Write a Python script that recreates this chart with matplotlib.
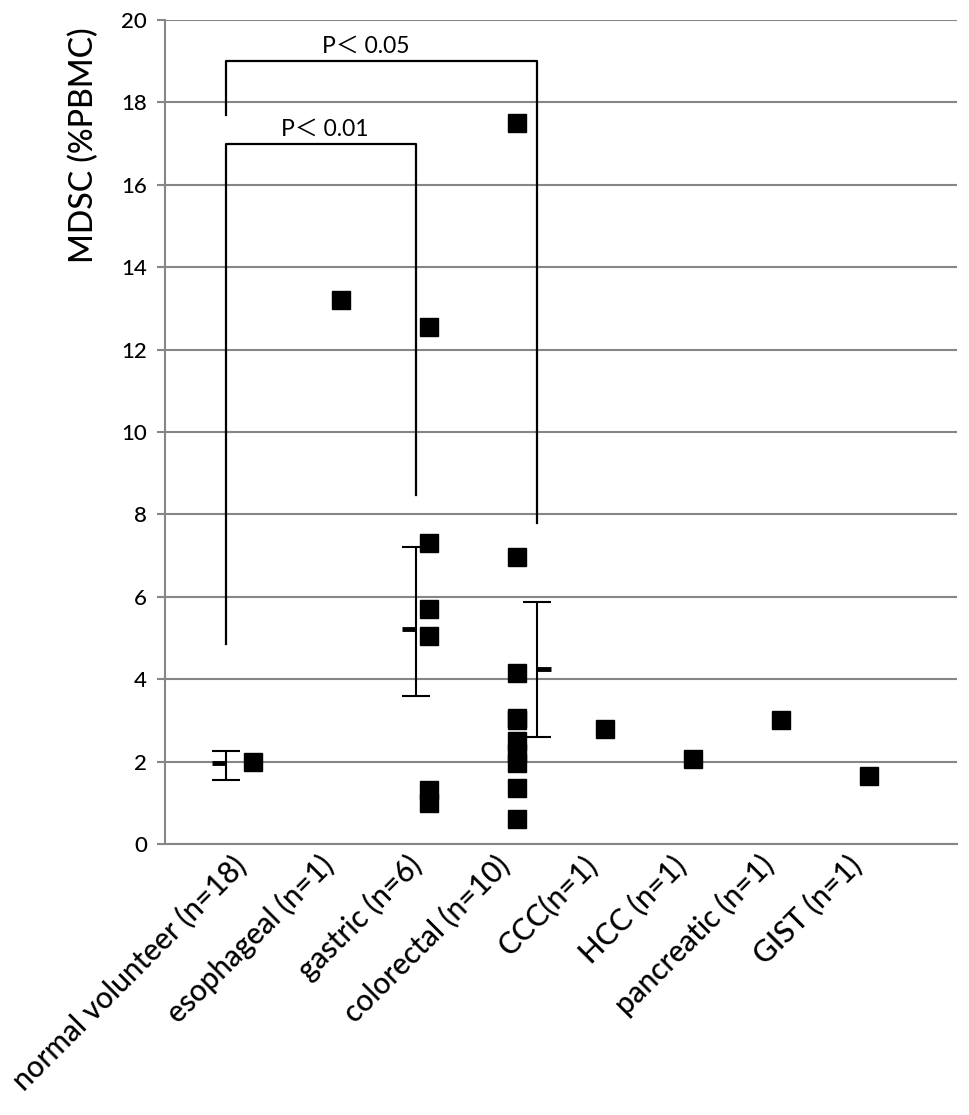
import matplotlib
matplotlib.use("Agg")
import matplotlib.pyplot as plt
import matplotlib.transforms as mtransforms
import numpy as np

plt.rcParams['font.family'] = ['Lato', 'Noto Sans CJK JP', 'DejaVu Sans']

# data
categories = ["normal volunteer (n=18)", "esophageal (n=1)", "gastric (n=6)",
              "colorectal (n=10)", "CCC(n=1)", "HCC (n=1)", "pancreatic (n=1)",
              "GIST (n=1)"]

normal = [2.0]
esophageal = [13.2]
gastric = [12.55, 7.3, 5.7, 5.05, 1.3, 1.0]
colorectal = [17.5, 6.97, 4.15, 3.07, 3.0, 2.5, 2.2, 1.97, 1.36, 0.6]
ccc = [2.8]
hcc = [2.06]
pancreatic = [3.02]
gist = [1.65]
groups = [normal, esophageal, gastric, colorectal, ccc, hcc, pancreatic, gist]

# mean +/- error for the three summarised groups
err_groups = [0, 2, 3]
err_mean = [1.97, 5.22, 4.25]
err_low = [1.55, 3.6, 2.6]
err_high = [2.25, 7.2, 5.87]

# significance brackets
p_labels = ["P\uff1c 0.05", "P\uff1c 0.01"]
p_pairs = [(0, 3), (0, 2)]
p_top = [19.0, 17.0]
p_left_end = [17.7, 4.85]
p_right_end = [7.8, 8.47]

# horizontal placement of the error bars next to the points
err_shift = [-0.31, -0.15, 0.23]
tick_side = [-1, -1, 1]

fig = plt.figure(figsize=(9.69, 11.15), dpi=100)
ax = fig.add_axes([0.1703, 0.2430, 0.8173, 0.7391])

gray = "#868686"
for i, vals in enumerate(groups):
    ax.plot([i] * len(vals), vals, ls="none", marker="s", ms=12.5,
            color="black", zorder=4)

ex = []
for k, g in enumerate(err_groups):
    x = g + err_shift[k]
    ex.append(x)
    lo = err_mean[k] - err_low[k]
    hi = err_high[k] - err_mean[k]
    ax.errorbar([x], [err_mean[k]], yerr=[[lo], [hi]], fmt="none",
                ecolor="black", elinewidth=1.5, capsize=10, capthick=1.5,
                zorder=3)
    ax.plot([x, x + tick_side[k] * 0.16], [err_mean[k]] * 2, color="black",
            lw=3.5, solid_capstyle="butt", zorder=3)

bx = dict(zip(err_groups, ex))
text_x = [1.28, 0.82]
for k, (a, b) in enumerate(p_pairs):
    xa, xb = bx[a], bx[b]
    ax.plot([xa, xa, xb, xb], [p_left_end[k], p_top[k], p_top[k], p_right_end[k]],
            color="black", lw=1.6, zorder=3)
    ax.text(text_x[k], p_top[k] + 0.1, p_labels[k], ha="center", va="bottom",
            fontsize=16.5)

ax.set_xlim(-1, 8)
ax.set_ylim(0, 20)
ax.set_yticks(np.arange(0, 21, 2))
ax.yaxis.grid(True, color=gray, lw=1.5)
ax.set_axisbelow(True)
for s in ["top", "right"]:
    ax.spines[s].set_visible(False)
for s in ["left", "bottom"]:
    ax.spines[s].set_color(gray)
    ax.spines[s].set_linewidth(1.5)
ax.tick_params(axis="y", direction="out", length=6, width=1.5, color=gray,
               labelsize=16, pad=7)
ax.tick_params(axis="x", length=0)
ax.set_xticks(range(len(categories)))
ax.set_xticklabels(categories, rotation=45, ha="right", va="center",
                   rotation_mode="anchor", fontsize=21.5)
ax.tick_params(axis="x", pad=12)
shift = mtransforms.ScaledTranslation(-12 / 100, 0, fig.dpi_scale_trans)
for lab in ax.get_xticklabels():
    lab.set_transform(lab.get_transform() + shift)
for lab in ax.get_xticklabels() + ax.get_yticklabels():
    lab.set_fontweight("medium")

ax.set_ylabel("MDSC (%PBMC)", fontsize=23, fontweight="medium")
ax.yaxis.set_label_coords(-0.083, 0.848)

fig.savefig("out.png", dpi=100)
